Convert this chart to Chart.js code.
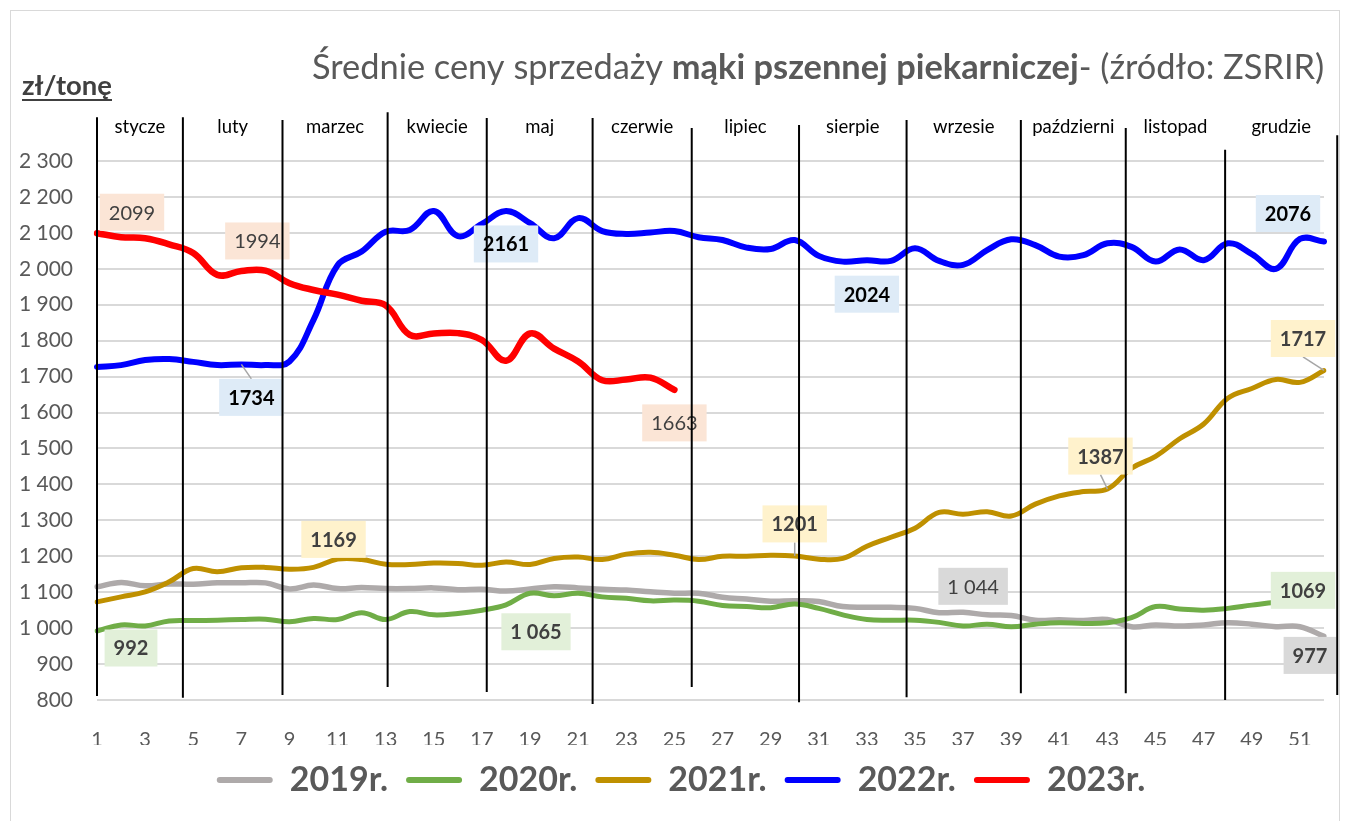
<!DOCTYPE html>
<html lang="pl">
<head>
<meta charset="utf-8">
<title>Średnie ceny sprzedaży mąki pszennej piekarniczej</title>
<script src="https://cdn.jsdelivr.net/npm/chart.js@4.4.1/dist/chart.umd.min.js"></script>
<style>
  html, body { margin: 0; padding: 0; background: #fff; }
  #wrap { position: relative; width: 1347px; height: 821px; }
</style>
</head>
<body>
<div id="wrap"><canvas id="chart"></canvas></div>
<script>
const weeks = ['1', '2', '3', '4', '5', '6', '7', '8', '9', '10', '11', '12', '13',
  '14', '15', '16', '17', '18', '19', '20', '21', '22', '23', '24', '25', '26',
  '27', '28', '29', '30', '31', '32', '33', '34', '35', '36', '37', '38', '39',
  '40', '41', '42', '43', '44', '45', '46', '47', '48', '49', '50', '51', '52'];

const months = ['stycze', 'luty', 'marzec', 'kwiecie', 'maj', 'czerwie', 'lipiec',
  'sierpie', 'wrzesie', 'październi', 'listopad', 'grudzie'];
// week number where each month starts (last entry closes grudzie)
const monthBounds = [1, 4.57, 8.71, 13.08, 17.2, 21.6, 25.72, 30.18, 34.65, 39.4, 43.76, 47.89, 52.55];

const prices2019 = [1115, 1127, 1118, 1123, 1122, 1126, 1126, 1126, 1109, 1120,
  1110, 1113, 1110, 1110, 1112, 1107, 1108, 1103, 1109, 1115,
  1112, 1108, 1106, 1101, 1097, 1097, 1086, 1081, 1075, 1076,
  1074, 1060, 1058, 1058, 1055, 1043, 1044, 1037, 1035, 1022,
  1023, 1021, 1024, 1004, 1009, 1006, 1009, 1015, 1011, 1004,
  1004, 977];
const prices2020 = [992, 1009, 1006, 1020, 1021, 1022, 1024, 1025, 1018, 1027,
  1024, 1043, 1024, 1046, 1037, 1041, 1050, 1065, 1097, 1090,
  1097, 1087, 1083, 1076, 1078, 1075, 1063, 1060, 1057, 1067,
  1055, 1037, 1024, 1022, 1022, 1016, 1006, 1011, 1004, 1011,
  1015, 1013, 1015, 1029, 1060, 1053, 1050, 1055, 1064, 1072,
  1075, 1069];
const prices2021 = [1073, 1087, 1101, 1129, 1166, 1157, 1168, 1169, 1164, 1169,
  1192, 1191, 1178, 1177, 1181, 1180, 1175, 1184, 1177, 1194,
  1198, 1191, 1206, 1211, 1203, 1191, 1200, 1200, 1203, 1201,
  1192, 1194, 1228, 1253, 1278, 1322, 1317, 1324, 1312, 1345,
  1368, 1380, 1387, 1445, 1478, 1527, 1568, 1640, 1667, 1692,
  1684, 1717];
const prices2022 = [1727, 1732, 1746, 1749, 1741, 1732, 1734, 1732, 1742, 1858,
  2010, 2048, 2103, 2108, 2161, 2091, 2125, 2161, 2127, 2085,
  2141, 2105, 2097, 2101, 2105, 2088, 2080, 2059, 2055, 2080,
  2036, 2020, 2024, 2022, 2057, 2022, 2011, 2052, 2082, 2066,
  2034, 2038, 2071, 2061, 2020, 2054, 2024, 2071, 2041, 2000,
  2083, 2076];
const prices2023 = [2099, 2088, 2085, 2068, 2044, 1983, 1994, 1995, 1960, 1941,
  1928, 1911, 1898, 1816, 1820, 1821, 1802, 1744, 1820, 1778,
  1742, 1690, 1692, 1697, 1663];

const seriesNames = ['2019r.', '2020r.', '2021r.', '2022r.', '2023r.'];
const seriesColors = ['#AEAAAA', '#70AD47', '#BF9000', '#0000FF', '#FF0000'];
const seriesWidths = [5.5, 5, 5, 6, 6.5];

// callouts: dataset, week, offset of the box centre from the point
const callouts = [
  { ds: 4, week: 1, dx: 35, dy: -21 },
  { ds: 4, week: 7, dx: 16, dy: -30 },
  { ds: 4, week: 25, dx: 0, dy: 33 },
  { ds: 3, week: 7, dx: 10, dy: 33, leader: true },
  { ds: 3, week: 18, dx: 0, dy: 33 },
  { ds: 3, week: 33, dx: 0, dy: 34 },
  { ds: 3, week: 52, dx: -36, dy: -28 },
  { ds: 2, week: 10, dx: 20, dy: -28 },
  { ds: 2, week: 30, dx: 0, dy: -32, leader: true },
  { ds: 2, week: 43, dx: -7, dy: -33, leader: true },
  { ds: 2, week: 52, dx: -21, dy: -32, leader: true },
  { ds: 1, week: 1, dx: 34, dy: 17 },
  { ds: 1, week: 18, dx: 30, dy: 27, spaced: true },
  { ds: 1, week: 52, dx: -21, dy: -13 },
  { ds: 0, week: 37, dx: 10, dy: -26, light: true, spaced: true },
  { ds: 0, week: 52, dx: -14, dy: 19 },
];
const calloutStyles = [
  { bg: '#D9D9D9', color: '#404040', bold: true },
  { bg: '#E2F0D9', color: '#404040', bold: true },
  { bg: '#FFF2CC', color: '#404040', bold: true },
  { bg: '#DEEBF7', color: '#000000', bold: true },
  { bg: '#FBE5D6', color: '#404040', bold: false },
];

const spaced = (v) => v >= 1000 ? Math.floor(v / 1000) + ' ' + String(v % 1000).padStart(3, '0') : String(v);

// fit a text run to a given pixel width
function fitFont(ctx, text, weight, width) {
  ctx.font = weight + ' 30px Lato';
  return 30 * width / ctx.measureText(text).width;
}

const decorations = {
  id: 'decorations',
  afterLayout(chart) {
    // the legend sits a little right of centre in the original
    chart.legend.left += 19;
    chart.legend.right += 19;
  },
  beforeDraw(chart) {
    const { ctx } = chart;
    ctx.save();
    ctx.strokeStyle = '#D9D9D9';
    ctx.lineWidth = 1;
    ctx.strokeRect(10.5, 10.5, 1329, 840);

    // title with bold middle part
    const parts = [['Średnie ceny sprzedaży ', 'normal'], ['mąki pszennej piekarniczej', 'bold'], ['- (źródło: ZSRIR)', 'normal']];
    let total = 0;
    parts.forEach(([t, w]) => { ctx.font = w + ' 30px Lato'; total += ctx.measureText(t).width; });
    const size = 30 * 1013 / total;
    let x = 312;
    ctx.fillStyle = '#595959';
    ctx.textBaseline = 'alphabetic';
    parts.forEach(([t, w]) => {
      ctx.font = w + ' ' + size + 'px Lato';
      ctx.fillText(t, x, 79);
      x += ctx.measureText(t).width;
    });

    // unit label
    const unit = 'zł/tonę';
    const us = fitFont(ctx, unit, 'bold', 90);
    ctx.font = 'bold ' + us + 'px Lato';
    ctx.fillStyle = '#404040';
    ctx.fillText(unit, 22, 95);
    ctx.fillRect(22, 99, 90, 2);
    ctx.restore();
  },
  afterDatasetsDraw(chart) {
    const { ctx, scales: { x, y } } = chart;
    ctx.save();

    callouts.forEach((c) => {
      const pt = chart.getDatasetMeta(c.ds).data[c.week - 1];
      const value = chart.data.datasets[c.ds].data[c.week - 1];
      const st = calloutStyles[c.ds];
      const text = c.spaced ? spaced(value) : String(value);
      ctx.font = (st.bold && !c.light ? 'bold ' : '') + '20px Lato';
      const w = ctx.measureText(text).width + 18;
      const h = 37;
      const cx = pt.x + c.dx;
      const cy = pt.y + c.dy;
      if (c.leader) {
        ctx.strokeStyle = '#A6A6A6';
        ctx.lineWidth = 1.5;
        ctx.beginPath();
        ctx.moveTo(pt.x, pt.y);
        ctx.lineTo(cx, c.dy > 0 ? cy - h / 2 : cy + h / 2);
        ctx.stroke();
      }
      ctx.fillStyle = st.bg;
      ctx.fillRect(cx - w / 2, cy - h / 2, w, h);
      ctx.fillStyle = st.color;
      ctx.textAlign = 'center';
      ctx.textBaseline = 'middle';
      ctx.fillText(text, cx, cy + 1);
    });

    // month separators, drawn above the series like the original shapes
    const tops = [2422, 2422, 2414, 2436, 2420, 2420, 2392, 2400, 2414, 2414, 2392, 2331, 2372];
    const bottoms = [811, 806, 814, 836, 822, 789, 836, 794, 808, 819, 819, 800, 814];
    ctx.strokeStyle = '#000000';
    ctx.lineWidth = 2;
    const xs = monthBounds.map((wk) => x.getPixelForValue(wk - 1));
    xs.forEach((px, i) => {
      ctx.beginPath();
      ctx.moveTo(px, y.getPixelForValue(tops[i]));
      ctx.lineTo(px, y.getPixelForValue(bottoms[i]));
      ctx.stroke();
    });

    ctx.fillStyle = '#000000';
    ctx.font = '18.5px Lato';
    ctx.textAlign = 'center';
    ctx.textBaseline = 'alphabetic';
    months.forEach((m, i) => {
      ctx.fillText(m, (xs[i] + xs[i + 1]) / 2, 133);
    });
    ctx.restore();
  }
};

Chart.defaults.font.family = 'Lato';

const allPrices = [prices2019, prices2020, prices2021, prices2022, prices2023];

new Chart(document.getElementById('chart'), {
  type: 'line',
  data: {
    labels: weeks,
    datasets: allPrices.map((data, i) => ({
      label: seriesNames[i],
      data: data,
      borderColor: seriesColors[i],
      backgroundColor: seriesColors[i],
      borderWidth: seriesWidths[i],
      borderCapStyle: 'round',
      borderJoinStyle: 'round',
      pointRadius: 0,
      tension: 0.4,
      // later years sit on top
      order: 5 - i,
    })),
  },
  plugins: [decorations],
  options: {
    responsive: true,
    maintainAspectRatio: false,
    animation: false,
    layout: {
      padding: { top: 161, right: 23, bottom: 14, left: 0 },
    },
    plugins: {
      tooltip: { enabled: false },
      title: { display: false },
      legend: {
        position: 'bottom',
        labels: {
          boxWidth: 56,
          boxHeight: 6,
          padding: 18,
          color: '#595959',
          font: { size: 34, weight: 'bold' },
          useBorderRadius: true,
          borderRadius: 3,
          sort: (a, b) => a.datasetIndex - b.datasetIndex,
          generateLabels(chart) {
            return Chart.defaults.plugins.legend.labels.generateLabels(chart)
              .map((item) => ({ ...item, fillStyle: item.strokeStyle, lineWidth: 0 }));
          },
        },
      },
    },
    scales: {
      x: {
        type: 'category',
        offset: false,
        grid: { display: false },
        border: { display: false },
        afterFit(scale) { scale.height = 45; },
        ticks: {
          autoSkip: false,
          maxRotation: 0,
          padding: 20,
          color: '#595959',
          font: { size: 20 },
          // only odd week numbers are labelled
          callback: function (val, index) {
            return index % 2 === 0 ? this.getLabelForValue(val) : '';
          },
        },
      },
      y: {
        min: 800,
        max: 2300,
        afterFit(scale) { scale.width = 97; },
        grid: { color: '#D9D9D9', lineWidth: 2, drawTicks: false },
        border: { display: false },
        ticks: {
          stepSize: 100,
          padding: 24,
          color: '#595959',
          font: { size: 21 },
          callback: (v) => spaced(v),
        },
      },
    },
  },
});
</script>
</body>
</html>
